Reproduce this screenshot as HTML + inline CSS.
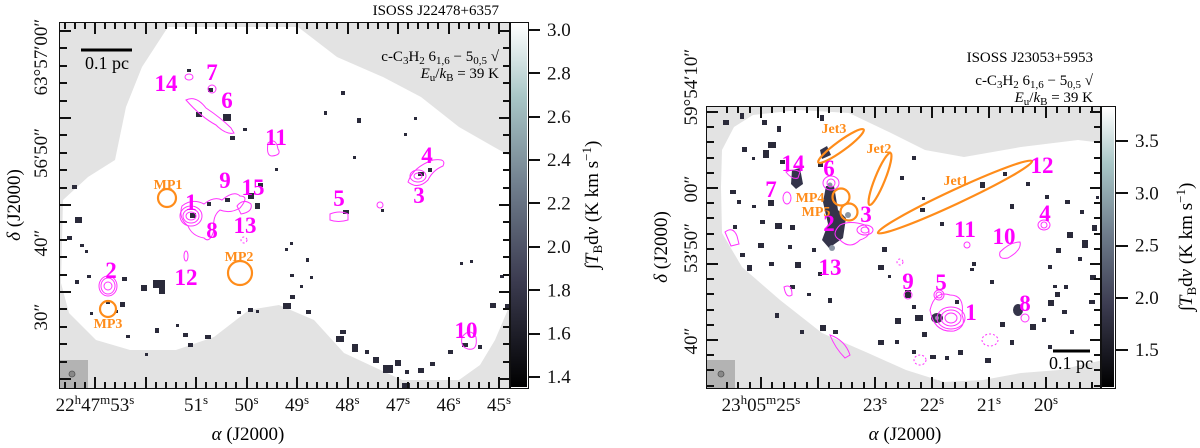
<!DOCTYPE html>
<html><head><meta charset="utf-8">
<style>
html,body{margin:0;padding:0;background:#fff;}
#wrap{position:relative;width:1200px;height:448px;overflow:hidden;}
svg{display:block;position:absolute;left:0;top:0;}
text{font-family:"Liberation Serif",serif;}
.tl{font-size:19px;fill:#111;}
.lab{font-size:23px;font-weight:bold;fill:#ff00ff;}
.or{font-size:14px;font-weight:bold;fill:#ff8c1a;}
.ct{fill:none;stroke:#ff33ff;stroke-width:1;}
.box{position:absolute;border:1.5px solid #111;box-sizing:border-box;}
.tk{position:absolute;background:#111;}
</style></head>
<body>
<div id="wrap">
<svg id="fig" width="1200" height="448" viewBox="0 0 1200 448" xmlns="http://www.w3.org/2000/svg">
<defs>
<linearGradient id="cmap" x1="0" y1="1" x2="0" y2="0">
<stop offset="0" stop-color="#000"/>
<stop offset="0.3" stop-color="#3d3d52"/>
<stop offset="0.55" stop-color="#6f7d8c"/>
<stop offset="0.8" stop-color="#a9c7c7"/>
<stop offset="1" stop-color="#ffffff"/>
</linearGradient>
<clipPath id="clipL"><rect x="60" y="23" width="450" height="365"/></clipPath>
<clipPath id="clipR"><rect x="707" y="107" width="394" height="281"/></clipPath>
</defs>

<!-- LEFT PANEL -->
<g>
<rect x="60" y="23" width="450" height="365" fill="#e3e3e3"/>
<polygon clip-path="url(#clipL)" fill="#fff"
points="168,27 298,27 337,57 383,77 421,97 459,127 494,147 512,157 512,300 495,340 480,365 459,380 402,380 344,353 314,320 279,305 249,310 214,337 176,350 130,350 96,340 69,313 61,283 63,200 88,177 115,160 126,107 142,67"/>
<g id="specksL" fill="#2a2a3a"></g>
<g>
<path class="ct" d="M186,100 q10,-5 20,8 q15,10 25,20 l3,5 q-8,2 -18,-8 q-15,-8 -30,-25z"/>
<ellipse class="ct" cx="212" cy="89" rx="4" ry="4"/>
<ellipse class="ct" cx="189" cy="77" rx="4" ry="3"/>
<path class="ct" d="M268,143 q8,-6 10,6 q4,6 -6,7 q-6,0 -4,-13z"/>
<ellipse class="ct" cx="191" cy="216" rx="8" ry="7"/><ellipse class="ct" cx="191" cy="216" rx="5" ry="4"/><ellipse class="ct" cx="191" cy="216" rx="11" ry="10"/>
<path class="ct" d="M182,206 q10,-8 22,-2 q10,-8 18,-4 q12,-10 18,-4 q10,0 0,12 q-10,6 -20,2 q-8,6 -6,20 q-4,14 -10,8 q-12,-2 -16,-12 q-10,-8 -6,-20z"/>
<path class="ct" d="M237,206 q6,-8 14,-2 q2,8 -10,10z"/>
<ellipse class="ct" cx="108" cy="286" rx="7" ry="8"/><ellipse class="ct" cx="108" cy="286" rx="4" ry="4"/><ellipse class="ct" cx="108" cy="286" rx="9" ry="10"/>
<path class="ct" d="M330,214 q10,-4 18,0 l0,6 q-10,3 -18,0z"/>
<ellipse class="ct" cx="418" cy="176" rx="8" ry="6"/><ellipse class="ct" cx="418" cy="176" rx="4" ry="3"/>
<path class="ct" d="M408,182 q5,-15 25,-22 q14,-2 10,6 q-10,4 -15,14 q-10,10 -20,2z"/>
<path class="ct" d="M462,337 q8,-10 14,0 q2,14 -8,12 q-8,-2 -6,-12z"/>
<ellipse class="ct" cx="244" cy="240" rx="3" ry="3" stroke-dasharray="2,2"/>
<ellipse class="ct" cx="186" cy="256" rx="2" ry="5"/>
<ellipse class="ct" cx="380" cy="205" rx="3" ry="3"/>
</g>
<g fill="none" stroke="#ff8c1a" stroke-width="2.2">
<circle cx="167" cy="198" r="9"/>
<circle cx="240" cy="273" r="12"/>
<circle cx="108" cy="309" r="8"/>
</g>
<g>
<text class="lab" x="166" y="91" text-anchor="middle">14</text>
<text class="lab" x="212" y="80" text-anchor="middle">7</text>
<text class="lab" x="227" y="108" text-anchor="middle">6</text>
<text class="lab" x="276" y="145" text-anchor="middle">11</text>
<text class="lab" x="427" y="163" text-anchor="middle">4</text>
<text class="lab" x="419" y="203" text-anchor="middle">3</text>
<text class="lab" x="225" y="188" text-anchor="middle">9</text>
<text class="lab" x="253" y="195" text-anchor="middle">15</text>
<text class="lab" x="191" y="210" text-anchor="middle">1</text>
<text class="lab" x="339" y="206" text-anchor="middle">5</text>
<text class="lab" x="212" y="238" text-anchor="middle">8</text>
<text class="lab" x="245" y="233" text-anchor="middle">13</text>
<text class="lab" x="111" y="278" text-anchor="middle">2</text>
<text class="lab" x="186" y="285" text-anchor="middle">12</text>
<text class="lab" x="466" y="338" text-anchor="middle">10</text>
<text class="or" x="168" y="189" text-anchor="middle">MP1</text>
<text class="or" x="239" y="261" text-anchor="middle">MP2</text>
<text class="or" x="108" y="328" text-anchor="middle">MP3</text>
</g>
<rect x="60" y="360" width="28" height="28" fill="#b3b3b3"/>
<ellipse cx="72" cy="374" rx="3" ry="3" fill="#888" stroke="#555" stroke-width="0.8"/>
<rect x="81" y="48.5" width="51" height="3" fill="#000"/>
<text x="107" y="69" text-anchor="middle" style="font-size:18px">0.1 pc</text>
<text x="499" y="15" text-anchor="end" style="font-size:15px">ISOSS J22478+6357</text>
<text x="499" y="61" text-anchor="end" style="font-size:15px">c-C<tspan font-size="11" dy="3">3</tspan><tspan dy="-3">H</tspan><tspan font-size="11" dy="3">2</tspan><tspan dy="-3"> 6</tspan><tspan font-size="11" dy="3">1,6</tspan><tspan dy="-3"> − 5</tspan><tspan font-size="11" dy="3">0,5</tspan><tspan dy="-3"> √</tspan></text>
<text x="499" y="78" text-anchor="end" style="font-size:15px"><tspan font-style="italic">E</tspan><tspan font-size="11" dy="3">u</tspan><tspan dy="-3">/</tspan><tspan font-style="italic">k</tspan><tspan font-size="11" dy="3">B</tspan><tspan dy="-3"> = 39 K</tspan></text>
<g id="xlabL"></g>
<g id="ylabL"></g>
<text x="248" y="440" text-anchor="middle" style="font-size:19px"><tspan font-style="italic">α</tspan> (J2000)</text>
<text transform="translate(20,205) rotate(-90)" text-anchor="middle" style="font-size:19px"><tspan font-style="italic">δ</tspan> (J2000)</text>
<rect x="511" y="24" width="16" height="363" fill="url(#cmap)"/>
<g id="cbL"></g>
<text transform="translate(598,205) rotate(-90)" text-anchor="middle" style="font-size:19px">∫<tspan font-style="italic">T</tspan><tspan font-size="13" dy="4">B</tspan><tspan dy="-4">d</tspan><tspan font-style="italic">v</tspan> (K km s<tspan font-size="13" dy="-7">−1</tspan><tspan dy="7">)</tspan></text>
</g>

<!-- RIGHT PANEL -->
<g>
<rect x="707" y="107" width="394" height="281" fill="#e3e3e3"/>
<polygon clip-path="url(#clipR)" fill="#fff"
points="753,115 799,110 849,113 891,133 925,150 964,157 1021,147 1078,140 1103,143 1103,360 1059,370 1021,373 983,380 944,382 906,370 868,353 822,333 780,300 742,267 722,233 721,187 722,150 734,127"/>
<g id="specksR" fill="#2a2a3a"></g>
<g fill="#34344a">
<path d="M792,170 l8,-2 3,16 -7,5 -5,-5z"/><path d="M826,186 l8,0 4,24 8,8 -3,20 -14,10 -7,-8 6,-16 -5,-22z"/>
<path d="M820,150 l7,-4 4,9 -9,4z"/><ellipse cx="937" cy="318" rx="6" ry="5"/><ellipse cx="1018" cy="310" rx="5" ry="6"/>
</g>
<g fill="#8a95a3">
<circle cx="830" cy="185" r="2.5"/><circle cx="848" cy="215" r="3"/><circle cx="832" cy="248" r="3"/><circle cx="937" cy="318" r="2"/>
</g>
<g>
<ellipse class="ct" cx="951" cy="318" rx="10" ry="8"/><ellipse class="ct" cx="951" cy="318" rx="6" ry="5"/><ellipse class="ct" cx="951" cy="318" rx="14" ry="11"/>
<path class="ct" d="M930,310 q5,-20 20,-15 q15,0 12,20 q5,12 -8,16 q-20,2 -24,-21z"/>
<ellipse class="ct" cx="939" cy="295" rx="5" ry="5"/><ellipse class="ct" cx="939" cy="295" rx="3" ry="3"/>
<ellipse class="ct" cx="908" cy="295" rx="4" ry="4"/>
<ellipse class="ct" cx="1044" cy="225" rx="6" ry="5"/><ellipse class="ct" cx="1044" cy="225" rx="3" ry="3"/>
<ellipse class="ct" cx="1025" cy="318" rx="4" ry="4"/>
<path class="ct" d="M1000,252 q10,-10 20,-10 q2,8 -12,16 q-10,2 -8,-6z"/>
<ellipse class="ct" cx="967" cy="245" rx="3" ry="3"/>
<ellipse class="ct" cx="865" cy="230" rx="8" ry="5"/><ellipse class="ct" cx="865" cy="230" rx="4" ry="3"/>
<path class="ct" d="M840,225 q10,-5 25,0 q10,10 -5,15 q-10,10 -20,0 q-10,-5 0,-15z"/>
<ellipse class="ct" cx="831" cy="183" rx="8" ry="7"/><ellipse class="ct" cx="831" cy="183" rx="4" ry="4"/>
<ellipse class="ct" cx="787" cy="198" rx="4" ry="6"/>
<path class="ct" d="M786,172 q8,-4 14,0 l-2,6 q-6,2 -12,-6z"/>
<path class="ct" d="M725,232 q8,-6 12,4 l2,8 -8,2z"/>
<path class="ct" d="M784,287 q8,-4 8,8 q-6,4 -8,-8z"/>
<path class="ct" d="M830,335 q15,5 20,20 l-5,3 q-10,-10 -15,-23z"/>
<ellipse class="ct" cx="900" cy="262" rx="3" ry="3" stroke-dasharray="2,2"/>
<ellipse class="ct" cx="990" cy="340" rx="8" ry="6" stroke-dasharray="2,2"/>
<ellipse class="ct" cx="920" cy="360" rx="6" ry="5" stroke-dasharray="2,2"/>
</g>
<g fill="none" stroke="#ff8c1a" stroke-width="2.2">
<ellipse cx="841" cy="146" rx="28" ry="5" transform="rotate(-36 841 146)"/>
<ellipse cx="880" cy="179" rx="28" ry="5" transform="rotate(-68 880 179)"/>
<ellipse cx="955" cy="197" rx="85" ry="7" transform="rotate(-25 955 197)"/>
<circle cx="841" cy="197" r="8.5"/>
<circle cx="849" cy="212" r="8.5"/>
</g>
<g>
<text class="lab" x="793" y="171" text-anchor="middle">14</text>
<text class="lab" x="829" y="176" text-anchor="middle">6</text>
<text class="lab" x="771" y="197" text-anchor="middle">7</text>
<text class="lab" x="829" y="231" text-anchor="middle">2</text>
<text class="lab" x="866" y="222" text-anchor="middle">3</text>
<text class="lab" x="830" y="275" text-anchor="middle">13</text>
<text class="lab" x="1042" y="173" text-anchor="middle">12</text>
<text class="lab" x="965" y="237" text-anchor="middle">11</text>
<text class="lab" x="1004" y="244" text-anchor="middle">10</text>
<text class="lab" x="1045" y="221" text-anchor="middle">4</text>
<text class="lab" x="908" y="289" text-anchor="middle">9</text>
<text class="lab" x="941" y="290" text-anchor="middle">5</text>
<text class="lab" x="971" y="320" text-anchor="middle">1</text>
<text class="lab" x="1025" y="311" text-anchor="middle">8</text>
<text class="or" x="810" y="202" text-anchor="middle">MP4</text>
<text class="or" x="816" y="216" text-anchor="middle">MP5</text>
<text class="or" x="834" y="133" text-anchor="middle">Jet3</text>
<text class="or" x="879" y="153" text-anchor="middle">Jet2</text>
<text class="or" x="956" y="185" text-anchor="middle">Jet1</text>
</g>
<rect x="707" y="360" width="28" height="28" fill="#b3b3b3"/>
<ellipse cx="721" cy="374" rx="3" ry="3" fill="#888" stroke="#555" stroke-width="0.8"/>
<rect x="1053" y="349.5" width="37" height="3" fill="#000"/>
<text x="1071" y="369" text-anchor="middle" style="font-size:18px">0.1 pc</text>
<text x="1093" y="62" text-anchor="end" style="font-size:15px">ISOSS J23053+5953</text>
<text x="1093" y="85" text-anchor="end" style="font-size:15px">c-C<tspan font-size="11" dy="3">3</tspan><tspan dy="-3">H</tspan><tspan font-size="11" dy="3">2</tspan><tspan dy="-3"> 6</tspan><tspan font-size="11" dy="3">1,6</tspan><tspan dy="-3"> − 5</tspan><tspan font-size="11" dy="3">0,5</tspan><tspan dy="-3"> √</tspan></text>
<text x="1093" y="102" text-anchor="end" style="font-size:15px"><tspan font-style="italic">E</tspan><tspan font-size="11" dy="3">u</tspan><tspan dy="-3">/</tspan><tspan font-style="italic">k</tspan><tspan font-size="11" dy="3">B</tspan><tspan dy="-3"> = 39 K</tspan></text>
<g id="xlabR"></g>
<g id="ylabR"></g>
<text x="905" y="440" text-anchor="middle" style="font-size:19px"><tspan font-style="italic">α</tspan> (J2000)</text>
<text transform="translate(667,247) rotate(-90)" text-anchor="middle" style="font-size:19px"><tspan font-style="italic">δ</tspan> (J2000)</text>
<rect x="1102" y="108" width="12" height="279" fill="url(#cmap)"/>
<g id="cbR"></g>
<text transform="translate(1192,247) rotate(-90)" text-anchor="middle" style="font-size:19px">∫<tspan font-style="italic">T</tspan><tspan font-size="13" dy="4">B</tspan><tspan dy="-4">d</tspan><tspan font-style="italic">v</tspan> (K km s<tspan font-size="13" dy="-7">−1</tspan><tspan dy="7">)</tspan></text>
</g>
</svg>
<div class="box" style="left:59px;top:22px;width:452px;height:367px;"></div>
<div class="box" style="left:509px;top:22px;width:20px;height:367px;"></div>
<div class="box" style="left:706px;top:106px;width:396px;height:283px;"></div>
<div class="box" style="left:1100px;top:106px;width:16px;height:283px;"></div>
<div id="marksL"></div>
<div id="marksR"></div>
</div>
<script>
// tick label data
const leftXTickSec = [53, 51, 50, 49, 48, 47, 46, 45];
const leftXTickText = [["22","h","47","m","53","s"], ["51","s"], ["50","s"], ["49","s"], ["48","s"], ["47","s"], ["46","s"], ["45","s"]];
const leftYTickText = ["63°57′00″", "56′50″", "40″", "30″"];
const leftYTickPos = [57, 153, 243, 317];
const leftCbValues = [1.4, 1.6, 1.8, 2.0, 2.2, 2.4, 2.6, 2.8, 3.0];
const rightXTickSec = [25, 23, 22, 21, 20];
const rightXTickText = [["23","h","05","m","25","s"], ["23","s"], ["22","s"], ["21","s"], ["20","s"]];
const rightYTickText = ["59°54′10″", "00″", "53′50″", "40″"];
const rightYTickPos = [87, 189, 248, 341];
const rightCbValues = [1.5, 2.0, 2.5, 3.0, 3.5];

const NS = "http://www.w3.org/2000/svg";
function mk(tag, attrs, parent){const e=document.createElementNS(NS,tag);for(const k in attrs)e.setAttribute(k,attrs[k]);parent.appendChild(e);return e;}

// axis functions
const lx = s => 196 + (51 - s) * 50.5;
const rx = s => 875 + (23 - s) * 57;
const lcb = v => 377 - (v - 1.4) / 1.6 * 347;
const rcb = v => 350 - (v - 1.5) / 2.0 * 209;

// notches as HTML divs
function notch(parent,x,y,w,h){
  const d=document.createElement('div');
  d.className='tk';
  d.style.left=x+'px'; d.style.top=y+'px'; d.style.width=w+'px'; d.style.height=h+'px';
  
  
  parent.appendChild(d);
}
function vnotch(p,x,ya,yb){ notch(p,Math.round(x)-1,Math.min(ya,yb),1.6,Math.abs(yb-ya)); }
function hnotch(p,y,xa,xb){ notch(p,Math.min(xa,xb),Math.round(y)-1,Math.abs(xb-xa),1.6); }
function frameMarks(p, x0, x1, y0, y1, xf, sMin, sMax, xStep, yTop, yStep){
  const n=Math.round((sMax-sMin)/xStep);
  for(let k=0;k<=n;k++){
    const s=sMax-k*xStep;
    const x=xf(s); if(x<x0+2||x>x1-2) continue;
    const major=Math.abs(s-Math.round(s))<1e-6; const L=major?11:6;
    vnotch(p,x,y1,y1-L); vnotch(p,x,y0,y0+L);
  }
  let i=0;
  for(let y=yTop; y<=y1-2; y+=yStep, i++){
    const L=(i%5===0)?11:7;
    hnotch(p,y,x0,x0+L); hnotch(p,y,x1,x1-L);
  }
}
const mL=document.getElementById('marksL'), mR=document.getElementById('marksR');
frameMarks(mL,60,510,23,388,lx,44.6,53.6,0.2,31,17.4);
frameMarks(mR,707,1101,107,388,rx,19.2,25.6,0.2,112,15.2);

function xLabel(g,x,parts,name){
  const t=mk('text',{x:x,y:411,'text-anchor':'middle',class:'tl'},g);
  parts.forEach((p,j)=>{
    const ts=mk('tspan',{},t);
    if(j%2===1){ts.setAttribute('font-size','13');ts.setAttribute('dy','-7');}
    else if(j>0){ts.setAttribute('dy','7');}
    ts.textContent=p;
  });
  
  
}
const xlL=document.getElementById('xlabL');
leftXTickSec.forEach((s,i)=>{ xLabel(xlL,lx(s),leftXTickText[i],'left-x-tick-label'); });
const xlR=document.getElementById('xlabR');
rightXTickSec.forEach((s,i)=>{ xLabel(xlR,rx(s),rightXTickText[i],'right-x-tick-label'); });

const ylL=document.getElementById('ylabL');
leftYTickText.forEach((s,i)=>{
  const t=mk('text',{transform:`translate(47,${leftYTickPos[i]}) rotate(-90)`,'text-anchor':'middle',class:'tl'},ylL);
  t.textContent=s;
  
  
});
const ylR=document.getElementById('ylabR');
rightYTickText.forEach((s,i)=>{
  const t=mk('text',{transform:`translate(697,${rightYTickPos[i]}) rotate(-90)`,'text-anchor':'middle',class:'tl'},ylR);
  t.textContent=s;
  
  
});
const cbL=document.getElementById('cbL');
leftCbValues.forEach(v=>{
  const y=lcb(v);
  hnotch(mL,y,528,540);
  const t=mk('text',{x:547,y:y+6,class:'tl'},cbL);
  t.textContent=v.toFixed(1);
  
  
});
const cbR=document.getElementById('cbR');
rightCbValues.forEach(v=>{
  const y=rcb(v);
  hnotch(mR,y,1115,1128);
  const t=mk('text',{x:1135,y:y+6,class:'tl'},cbR);
  t.textContent=v.toFixed(1);
  
  
});

// emission specks (image pixels)
const specksLeft=[[187,69,4,3],[208,88,5,4],[196,112,6,5],[223,114,8,7],[230,136,5,4],[243,128,4,3],[341,91,4,4],[324,111,3,4],[357,118,4,5],[414,117,3,3],[404,133,3,3],[72,185,5,4],[75,217,7,6],[67,236,5,4],[80,244,4,3],[85,250,3,3],[87,275,4,3],[75,280,4,4],[122,277,5,4],[141,285,6,6],[153,280,12,8],[159,288,6,6],[106,300,4,4],[115,310,3,3],[190,213,6,5],[207,202,4,4],[225,198,5,4],[248,193,6,6],[255,203,5,6],[258,183,5,4],[343,210,6,4],[418,172,6,4],[428,168,4,4],[285,248,3,3],[290,274,4,3],[290,295,5,4],[283,303,8,6],[306,310,5,4],[248,308,5,4],[256,310,3,3],[237,311,4,3],[176,324,3,3],[155,328,4,5],[183,333,5,4],[188,343,5,4],[205,335,6,4],[145,353,3,3],[340,330,6,4],[336,336,8,6],[352,344,6,8],[365,350,4,4],[373,357,6,6],[383,365,10,8],[395,360,6,6],[405,370,4,4],[418,368,6,5],[430,362,5,4],[402,383,8,5],[448,350,5,4],[462,343,6,4],[478,345,4,4],[490,303,6,5],[505,304,4,4],[470,260,3,3],[460,262,3,3],[500,275,4,3],[381,209,3,3],[310,276,3,3],[275,168,3,3],[306,258,3,4],[290,242,3,3],[300,285,3,3],[126,335,4,3],[120,302,5,5],[90,312,3,3],[353,156,3,3]];
const specksRight=[[723,120,6,5],[740,113,4,6],[762,120,5,5],[742,147,5,5],[768,142,8,6],[777,126,4,6],[763,150,6,8],[820,115,4,6],[780,160,5,4],[752,157,3,3],[818,162,5,5],[730,190,6,4],[737,200,4,4],[752,205,4,3],[768,200,6,6],[760,220,5,4],[775,223,7,6],[790,225,5,5],[733,225,4,4],[758,243,6,5],[740,253,5,4],[747,265,5,6],[769,262,5,4],[788,245,4,4],[812,248,4,4],[818,272,4,4],[795,262,6,6],[790,285,5,4],[807,293,4,3],[828,298,4,5],[820,325,6,6],[833,330,5,4],[775,313,4,5],[800,330,4,4],[882,247,5,5],[878,265,6,5],[888,275,3,3],[905,290,6,8],[912,305,4,4],[915,315,8,6],[895,318,6,6],[922,332,5,5],[895,340,4,4],[878,340,6,5],[912,350,4,4],[930,355,6,4],[945,356,4,4],[958,350,5,5],[985,358,6,5],[1000,322,5,5],[1010,340,4,5],[1030,324,6,6],[1042,318,4,4],[1048,300,6,6],[1055,292,5,5],[1064,285,4,4],[1048,265,4,4],[1056,248,5,5],[1067,232,6,6],[1082,240,6,8],[1092,225,5,6],[1078,257,4,4],[1090,275,6,5],[1089,300,6,4],[1070,330,4,4],[1048,345,4,4],[990,280,4,4],[972,262,4,4],[1010,204,4,5],[980,182,5,6],[1003,172,4,4],[1026,182,4,4],[1045,195,4,4],[1065,200,5,4],[1080,210,4,4],[955,300,4,4],[970,268,4,3],[920,208,5,4],[912,156,4,4],[900,176,4,4],[922,197,3,3],[940,222,4,4],[1053,285,4,3],[1062,310,5,4],[1096,196,3,3]];
const gL=document.getElementById('specksL');
specksLeft.forEach(p=>{const r=mk('rect',{x:p[0],y:p[1],width:p[2],height:p[3]},gL);});
const gR=document.getElementById('specksR');
specksRight.forEach(p=>{const r=mk('rect',{x:p[0],y:p[1],width:p[2],height:p[3]},gR);});
</script>
</body></html>
